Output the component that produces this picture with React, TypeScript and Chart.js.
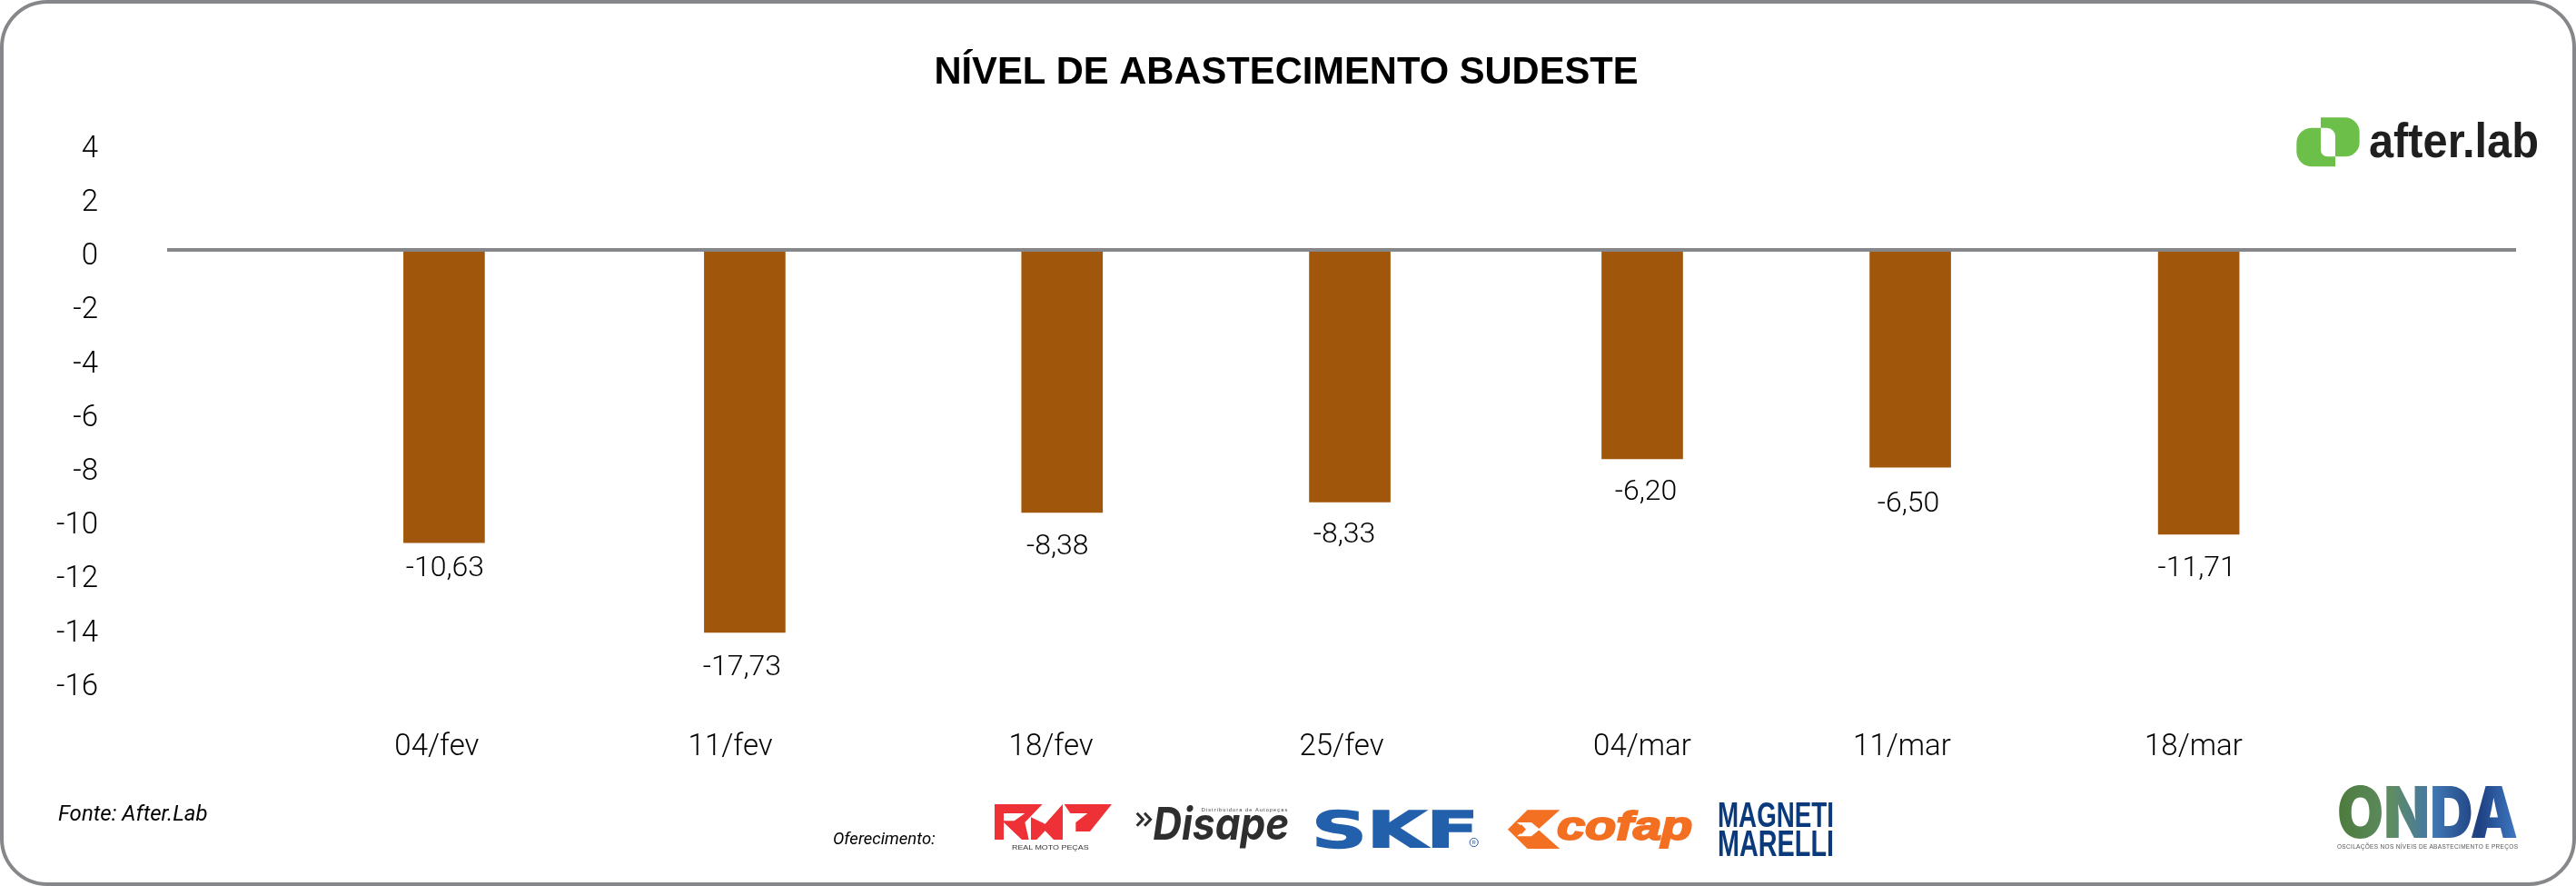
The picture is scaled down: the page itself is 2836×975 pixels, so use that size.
import React, { useEffect, useRef } from "react";
import { Chart, registerables } from "chart.js";

Chart.register(...registerables);

const categories = ["04/fev", "11/fev", "18/fev", "25/fev", "04/mar", "11/mar", "18/mar"];
const barSlots = [11.79, 24.59, 38.1, 50.35, 62.8, 74.21, 86.49];
const labelSlots = [11.48, 23.98, 37.63, 50.0, 62.8, 73.86, 86.27];
const barValues = [-10.88, -14.22, -9.76, -9.37, -7.77, -8.08, -10.57];
const valueLabels = ["-10,63", "-17,73", "-8,38", "-8,33", "-6,20", "-6,50", "-11,71"];
const yTicks = [4, 2, 0, -2, -4, -6, -8, -10, -12, -14, -16];
const labelGaps = [29, 39, 38, 37, 37, 41, 38];
const labelShifts = [1, -3, -5, -6, 4, -2, -2];

const FONT = "Roboto";
const WEIGHT = 350;
const GREY = "#85878A";

const barLabels = {
  id: "barLabels",
  afterDatasetsDraw(chart: any) {
    const { ctx } = chart;
    const meta = chart.getDatasetMeta(0);
    ctx.save();
    ctx.fillStyle = "#000";
    ctx.font = `${WEIGHT} 32px ${FONT}`;
    ctx.textAlign = "center";
    ctx.textBaseline = "middle";
    meta.data.forEach((bar: any, i: number) => {
      ctx.fillText(valueLabels[i], bar.x + labelShifts[i], bar.y + labelGaps[i]);
    });
    ctx.restore();
  },
};

function Logos() {
  const fit = { lengthAdjust: "spacingAndGlyphs" } as any;
  return (
    <svg
      width={2836}
      height={975}
      style={{ position: "absolute", left: 0, top: 0, pointerEvents: "none" }}
    >
      <defs>
        <linearGradient id="onda" gradientUnits="userSpaceOnUse" x1="2573" y1="0" x2="2772" y2="0">
          <stop offset="0" stopColor="#4C7B3C" />
          <stop offset="0.3" stopColor="#5F8C62" />
          <stop offset="0.55" stopColor="#3F74B0" />
          <stop offset="0.78" stopColor="#1E3F80" />
          <stop offset="1" stopColor="#3F7AC4" />
        </linearGradient>
      </defs>

      <text x={64} y={903} fontFamily={FONT} fontStyle="italic" fontSize={24} fill="#000">
        Fonte: After.Lab
      </text>
      <text x={917} y={929} fontFamily={FONT} fontStyle="italic" fontSize={18.5} fill="#000">
        Oferecimento:
      </text>

      {/* after.lab */}
      <g transform="translate(2500,100) scale(0.3333)">
        <path
          fill="#6CC04A"
          d="M213 250 H135 a50 50 0 0 1 -50 -50 V172 a50 50 0 0 1 50 -50 H165 V195 a22 22 0 0 0 22 22 H213Z"
        />
        <path
          fill="#6CC04A"
          d="M165 88 H245 a48 48 0 0 1 48 48 V170 a47 47 0 0 1 -47 47 H213 V150 a28 28 0 0 0 -28 -28 H165Z"
        />
      </g>
      <text
        x={2608}
        y={172.7}
        fontFamily="Liberation Sans"
        fontWeight="bold"
        fontSize={53}
        fill="#1F1F1F"
        textLength={187}
        {...fit}
      >
        after.lab
      </text>

      {/* RMP + Disape */}
      <g transform="translate(1000,860) scale(0.3333)">
        <path
          fill="#EE3137"
          fillRule="evenodd"
          d="M285 75 H443 L385 135 L398 192 H375 L315 135 V192 H285Z M315 105 V130 H350 L385 105Z"
        />
        <path fill="#EE3137" d="M405 118 L452 140 L510 75 V192 H480 L452 163 L424 192 H405Z" />
        <path fill="#EE3137" d="M515 75 H672 L600 165 H553 V135 L592 105 H535Z" />
        <text
          x={342}
          y={225}
          fontFamily="Liberation Sans"
          fontSize={24}
          fill="#333"
          textLength={254}
          {...fit}
        >
          REAL MOTO PEÇAS
        </text>
        <path
          fill="none"
          stroke="#2E2E2E"
          strokeWidth={9}
          d="M755 104 L775 125 L755 146 M780 104 L800 125 L780 146"
        />
        <text
          x={808}
          y={192}
          fontFamily="Inter"
          fontWeight="bold"
          fontStyle="italic"
          fontSize={147}
          fill="#2E2E2E"
          textLength={450}
          {...fit}
        >
          Disape
        </text>
        <text
          x={968}
          y={100}
          fontFamily="Liberation Sans"
          fontSize={17}
          fill="#444"
          textLength={284}
        >
          Distribuidora de Autopeças
        </text>
      </g>

      {/* SKF */}
      <text
        x={1444}
        y={931.7}
        fontFamily="DejaVu Sans"
        fontWeight="bold"
        fontSize={55}
        fill="#2360AC"
        stroke="#2360AC"
        strokeWidth={1.5}
        textLength={184}
        {...fit}
      >
        SKF
      </text>
      <circle cx={1622.7} cy={927} r={4.6} fill="none" stroke="#2360AC" strokeWidth={1} />
      <text x={1620.6} y={929.2} fontFamily="Liberation Sans" fontSize={6} fill="#2360AC">
        R
      </text>

      {/* cofap */}
      <g transform="translate(1480,860) scale(0.3333)">
        <path fill="#F36F21" d="M605 94 H712 L640 158 L712 222 H605 L540 158Z" />
        <path fill="#fff" d="M570 135 H618 L646 158 L618 181 H570 L598 158Z" />
        <path fill="#F36F21" d="M568 158 L585 142 L600 158 L585 174Z" />
        <text
          x={702}
          y={192}
          fontFamily="Liberation Sans"
          fontWeight="bold"
          fontStyle="italic"
          fontSize={132}
          fill="#F36F21"
          stroke="#F36F21"
          strokeWidth={6}
          textLength={448}
          {...fit}
        >
          cofap
        </text>
      </g>

      {/* Magneti Marelli */}
      <text
        x={1891}
        y={910}
        fontFamily="Liberation Sans"
        fontWeight="bold"
        fontSize={38}
        fill="#0A3A7B"
        textLength={128}
        {...fit}
      >
        MAGNETI
      </text>
      <text
        x={1891}
        y={942}
        fontFamily="Liberation Sans"
        fontWeight="bold"
        fontSize={40}
        fill="#0A3A7B"
        textLength={128}
        {...fit}
      >
        MARELLI
      </text>

      {/* ONDA */}
      <text
        x={2573}
        y={921.7}
        fontFamily="Inter"
        fontWeight={900}
        fontSize={78}
        fill="url(#onda)"
        textLength={199}
        {...fit}
      >
        ONDA
      </text>
      <text
        x={2573}
        y={934}
        fontFamily="Liberation Sans"
        fontSize={6.5}
        fill="#555"
        textLength={199}
      >
        OSCILAÇÕES NOS NÍVEIS DE ABASTECIMENTO E PREÇOS
      </text>
    </svg>
  );
}

export default function App() {
  const ref = useRef<HTMLCanvasElement>(null);
  useEffect(() => {
    document.body.style.margin = "0";
    const chart = new Chart(ref.current!, {
      type: "bar",
      data: {
        datasets: [
          {
            data: barSlots.map((x, i) => ({ x, y: barValues[i] })),
            backgroundColor: "#A0560B",
            barThickness: 89,
          },
        ],
      },
      options: {
        animation: false,
        responsive: false,
        layout: { padding: { left: 62, right: 66, top: 0, bottom: 126.4 } },
        plugins: {
          legend: { display: false },
          tooltip: { enabled: false },
          title: {
            display: true,
            text: "NÍVEL DE ABASTECIMENTO SUDESTE",
            color: "#000",
            font: { family: "Liberation Sans", weight: "bold", size: 41.7, lineHeight: 1.2 },
            padding: { top: 55.5, bottom: 51.1 },
          },
        },
        scales: {
          x: {
            type: "linear",
            offset: false,
            min: 0,
            max: 100,
            afterFit(axis: any) {
              axis.height = 100;
            },
            afterBuildTicks(axis: any) {
              axis.ticks = labelSlots.map((value) => ({ value }));
            },
            grid: { display: false, drawTicks: false },
            border: { display: false },
            ticks: {
              color: "#000",
              padding: 54,
              autoSkip: false,
              maxRotation: 0,
              font: { family: FONT, weight: WEIGHT, size: 33 },
              callback: (_v: any, i: number) => categories[i],
            },
          },
          y: {
            min: -16,
            max: 4,
            afterFit(axis: any) {
              axis.width = 122;
            },
            afterBuildTicks(axis: any) {
              axis.ticks = yTicks.map((value) => ({ value }));
            },
            grid: {
              z: 1,
              drawTicks: false,
              lineWidth: 4,
              color: (c: any) => (c.tick && c.tick.value === 0 ? GREY : "rgba(0,0,0,0)"),
            },
            border: { display: false },
            ticks: {
              color: "#000",
              labelOffset: 8,
              padding: 76,
              font: { family: FONT, weight: WEIGHT, size: 33 },
            },
          },
        },
      } as any,
      plugins: [barLabels],
    });
    return () => chart.destroy();
  }, []);

  return (
    <div style={{ position: "absolute", left: 0, top: 0, width: 2836, height: 975, background: "#fff" }}>
      <canvas ref={ref} width={2836} height={975} style={{ position: "absolute", left: 0, top: 0 }} />
      <Logos />
      <div
        style={{
          position: "absolute",
          inset: 0,
          boxSizing: "border-box",
          border: `4px solid ${GREY}`,
          borderRadius: 52,
          pointerEvents: "none",
        }}
      />
    </div>
  );
}
